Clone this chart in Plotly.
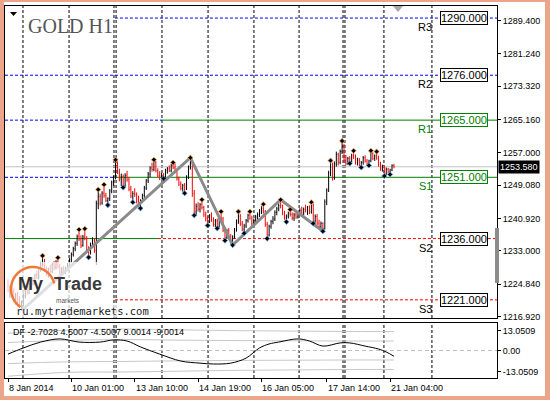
import math
import plotly.graph_objects as go

# ---------------------------------------------------------------------------
# Data (GOLD H1, 8 Jan - 21 Jan 2014)
# ---------------------------------------------------------------------------
opens = [
    1224.5, 1223.2, 1224.0, 1222.9, 1221.2, 1222.1, 1220.7, 1219.6,  # 8 Jan
    1220.2, 1222.0, 1223.5, 1222.8, 1224.7, 1225.8, 1225.0, 1227.0, 1226.5, 1228.6, 1229.8, 1230.4,
    1228.3, 1227.4, 1228.5, 1228.0, 1229.7, 1229.0, 1230.2, 1229.1, 1227.7, 1228.6, 1228.0, 1228.8,  # 9 Jan
    1229.4, 1230.8, 1232.1, 1233.5, 1234.8, 1236.5, 1235.9, 1234.3, 1236.4, 1236.0, 1233.4, 1232.6,
    1234.6, 1235.5, 1233.1, 1244.6, 1246.3, 1244.7, 1247.1, 1246.5, 1245.3, 1245.8, 1247.7, 1249.8,  # 10 Jan
    1251.0, 1254.4, 1252.3, 1250.6, 1251.2, 1249.0, 1251.5, 1250.4, 1248.1, 1246.4, 1247.0, 1246.8,
    1245.1, 1244.2, 1245.2, 1246.6, 1248.4, 1250.2, 1251.8, 1253.3, 1252.9, 1254.8, 1252.6, 1251.4,  # 13 Jan
    1250.9, 1251.7, 1251.0, 1252.7, 1253.2, 1252.6, 1253.9, 1253.3, 1252.4, 1250.6, 1249.3, 1248.3,
    1249.0, 1248.1, 1251.1, 1253.5, 1254.3, 1247.0, 1242.5, 1243.9, 1243.2, 1244.3, 1243.6, 1241.8,  # 14 Jan
    1240.9, 1240.2, 1241.6, 1240.5, 1239.4, 1240.3, 1239.0, 1241.2, 1240.8, 1238.0, 1236.2, 1237.9,
    1236.3, 1235.4, 1236.4, 1238.2, 1240.3, 1241.5, 1239.6, 1238.3, 1239.1, 1240.4, 1241.7, 1241.0,  # 15 Jan
    1239.7, 1240.5, 1241.3, 1241.9, 1242.8, 1243.3, 1242.6, 1239.4, 1236.9, 1239.0, 1240.2, 1240.8,
    1242.4, 1243.3, 1244.1, 1244.0, 1242.2, 1241.1, 1241.5, 1242.2, 1241.9, 1241.0, 1241.8, 1241.3,  # 16 Jan
    1242.1, 1242.9, 1242.3, 1243.1, 1242.8, 1243.6, 1242.5, 1244.2, 1240.3, 1241.4, 1239.8, 1238.9,
    1239.7, 1238.5, 1245.0, 1247.9, 1252.1, 1253.5, 1250.8, 1254.3, 1256.6, 1254.6, 1257.3,  # 17 Jan
    1258.6, 1255.3, 1254.4, 1255.6, 1254.9, 1256.3, 1256.0, 1254.6, 1255.2, 1253.9, 1254.6, 1255.8,
    1255.0, 1254.3, 1255.0, 1256.9, 1255.6, 1256.2, 1255.7, 1254.1, 1253.0,  # 20 Jan
    1253.6, 1251.8, 1253.0, 1252.3, 1252.8, 1253.9,  # 21 Jan
]
highs = [
    1226.0, 1224.6, 1225.2, 1223.8, 1222.7, 1223.0, 1221.9, 1220.8,
    1222.6, 1223.9, 1224.4, 1225.1, 1226.3, 1226.6, 1227.4, 1228.2, 1229.0, 1230.3, 1231.8, 1231.0,
    1229.2, 1228.9, 1229.6, 1230.1, 1230.5, 1230.7, 1231.3, 1229.8, 1229.0, 1229.3, 1229.1, 1230.0,
    1231.2, 1232.6, 1234.0, 1235.3, 1237.0, 1238.2, 1236.8, 1236.9, 1238.4, 1236.6, 1234.1, 1235.0,
    1236.3, 1236.0, 1245.3, 1248.0, 1247.0, 1247.6, 1249.2, 1247.2, 1246.1, 1248.1, 1250.2, 1251.4,
    1255.3, 1254.9, 1253.1, 1251.9, 1251.7, 1252.0, 1252.6, 1251.1, 1248.9, 1247.6, 1248.3, 1247.3,
    1246.5, 1245.6, 1247.0, 1248.9, 1250.6, 1252.3, 1253.7, 1254.6, 1255.3, 1255.0, 1253.2, 1252.5,
    1252.1, 1252.0, 1253.1, 1253.5, 1253.9, 1254.3, 1254.6, 1254.4, 1252.9, 1251.2, 1250.0, 1249.4,
    1249.6, 1251.5, 1253.9, 1255.8, 1254.9, 1247.9, 1244.6, 1244.9, 1244.7, 1245.5, 1244.0, 1242.6,
    1241.5, 1242.0, 1242.4, 1241.2, 1240.8, 1240.9, 1241.6, 1242.6, 1241.3, 1238.9, 1238.4, 1238.6,
    1237.1, 1236.8, 1238.6, 1240.7, 1242.6, 1242.0, 1240.3, 1239.6, 1240.8, 1242.1, 1242.6, 1241.6,
    1240.9, 1241.8, 1242.4, 1243.2, 1243.9, 1244.4, 1243.0, 1240.1, 1239.4, 1240.6, 1241.5, 1242.9,
    1243.8, 1244.6, 1245.5, 1244.3, 1242.8, 1241.9, 1242.6, 1243.1, 1242.4, 1242.3, 1242.9, 1242.6,
    1243.4, 1243.8, 1243.6, 1244.3, 1244.0, 1244.1, 1244.9, 1244.6, 1241.9, 1242.0, 1240.6, 1240.2,
    1240.0, 1245.6, 1248.3, 1252.6, 1255.1, 1254.6, 1254.9, 1257.3, 1257.0, 1257.8, 1259.9,
    1259.2, 1256.4, 1256.0, 1256.2, 1256.8, 1257.5, 1256.6, 1255.8, 1255.7, 1255.0, 1256.2, 1256.4,
    1255.5, 1255.3, 1257.5, 1257.1, 1256.6, 1257.3, 1256.3, 1254.8, 1254.1,
    1253.9, 1253.4, 1253.3, 1253.1, 1254.2, 1254.3,
]
lows = [
    1222.8, 1221.5, 1222.4, 1220.6, 1219.8, 1220.2, 1219.0, 1218.3,
    1219.5, 1221.3, 1222.2, 1222.4, 1223.9, 1224.5, 1224.6, 1226.1, 1226.0, 1227.9, 1229.1, 1227.8,
    1226.9, 1226.5, 1227.6, 1227.5, 1228.2, 1228.4, 1228.7, 1227.2, 1226.9, 1227.5, 1227.3, 1228.1,
    1228.9, 1230.1, 1231.6, 1232.9, 1234.2, 1235.4, 1233.7, 1234.0, 1235.6, 1232.8, 1231.4, 1232.1,
    1233.9, 1232.5, 1229.5, 1243.2, 1244.1, 1244.3, 1246.0, 1244.9, 1244.2, 1245.2, 1247.1, 1248.9,
    1250.5, 1251.8, 1250.0, 1248.8, 1248.5, 1248.7, 1249.9, 1247.6, 1245.9, 1244.9, 1246.2, 1244.6,
    1243.8, 1243.4, 1244.7, 1246.0, 1247.9, 1249.6, 1251.0, 1252.4, 1252.5, 1252.2, 1251.0, 1250.3,
    1250.5, 1250.7, 1250.8, 1251.9, 1252.3, 1252.2, 1253.0, 1252.0, 1250.2, 1248.9, 1247.8, 1247.5,
    1247.1, 1247.9, 1250.6, 1252.9, 1246.2, 1241.7, 1241.8, 1242.6, 1242.4, 1243.1, 1241.3, 1240.2,
    1239.2, 1239.8, 1240.1, 1238.9, 1238.8, 1238.5, 1238.7, 1240.4, 1237.6, 1235.5, 1235.9, 1235.8,
    1234.9, 1234.4, 1236.0, 1237.7, 1239.6, 1239.1, 1237.8, 1237.3, 1238.6, 1239.9, 1240.6, 1239.2,
    1239.0, 1239.8, 1240.6, 1241.3, 1242.0, 1242.1, 1238.9, 1236.0, 1236.5, 1238.4, 1239.5, 1240.3,
    1241.7, 1242.7, 1243.4, 1241.7, 1240.6, 1240.1, 1240.9, 1241.4, 1240.5, 1240.3, 1240.8, 1240.9,
    1241.5, 1241.9, 1241.6, 1242.4, 1241.8, 1242.0, 1242.1, 1239.7, 1239.9, 1239.3, 1238.4, 1237.9,
    1237.8, 1238.2, 1244.2, 1247.4, 1251.3, 1250.2, 1250.4, 1253.6, 1253.9, 1254.2, 1256.7,
    1254.6, 1253.9, 1254.0, 1254.4, 1254.6, 1255.5, 1254.1, 1253.9, 1253.4, 1253.4, 1254.1, 1254.6,
    1253.8, 1253.9, 1254.7, 1255.2, 1255.0, 1255.3, 1253.6, 1252.6, 1252.4,
    1251.3, 1251.6, 1251.9, 1251.7, 1252.5, 1253.2,
]
closes = [
    1223.2, 1224.0, 1222.9, 1221.2, 1222.1, 1220.7, 1219.6, 1220.2,
    1222.0, 1223.5, 1222.8, 1224.7, 1225.8, 1225.0, 1227.0, 1226.5, 1228.6, 1229.8, 1230.4, 1228.3,
    1227.4, 1228.5, 1228.0, 1229.7, 1229.0, 1230.2, 1229.1, 1227.7, 1228.6, 1228.0, 1228.8, 1229.4,
    1230.8, 1232.1, 1233.5, 1234.8, 1236.5, 1235.9, 1234.3, 1236.4, 1236.0, 1233.4, 1232.6, 1234.6,
    1235.5, 1233.1, 1244.6, 1246.3, 1244.7, 1247.1, 1246.5, 1245.3, 1245.8, 1247.7, 1249.8, 1251.0,
    1254.4, 1252.3, 1250.6, 1251.2, 1249.0, 1251.5, 1250.4, 1248.1, 1246.4, 1247.0, 1246.8, 1245.1,
    1244.2, 1245.2, 1246.6, 1248.4, 1250.2, 1251.8, 1253.3, 1252.9, 1254.8, 1252.6, 1251.4, 1250.9,
    1251.7, 1251.0, 1252.7, 1253.2, 1252.6, 1253.9, 1253.3, 1252.4, 1250.6, 1249.3, 1248.3, 1249.0,
    1248.1, 1251.1, 1253.5, 1254.3, 1247.0, 1242.5, 1243.9, 1243.2, 1244.3, 1243.6, 1241.8, 1240.9,
    1240.2, 1241.6, 1240.5, 1239.4, 1240.3, 1239.0, 1241.2, 1240.8, 1238.0, 1236.2, 1237.9, 1236.3,
    1235.4, 1236.4, 1238.2, 1240.3, 1241.5, 1239.6, 1238.3, 1239.1, 1240.4, 1241.7, 1241.0, 1239.7,
    1240.5, 1241.3, 1241.9, 1242.8, 1243.3, 1242.6, 1239.4, 1236.9, 1239.0, 1240.2, 1240.8, 1242.4,
    1243.3, 1244.1, 1244.0, 1242.2, 1241.1, 1241.5, 1242.2, 1241.9, 1241.0, 1241.8, 1241.3, 1242.1,
    1242.9, 1242.3, 1243.1, 1242.8, 1243.6, 1242.5, 1244.2, 1240.3, 1241.4, 1239.8, 1238.9, 1239.7,
    1238.5, 1245.0, 1247.9, 1252.1, 1253.5, 1250.8, 1254.3, 1256.6, 1254.6, 1257.3, 1258.6,
    1255.3, 1254.4, 1255.6, 1254.9, 1256.3, 1256.0, 1254.6, 1255.2, 1253.9, 1254.6, 1255.8, 1255.0,
    1254.3, 1255.0, 1256.9, 1255.6, 1256.2, 1255.7, 1254.1, 1253.0, 1253.6,
    1251.8, 1253.0, 1252.3, 1252.8, 1253.9, 1253.58,
]
last_price = 1253.58

# fractal marks (bar index, price)
up_bars = [18, 26, 37, 40, 47, 50, 56, 76, 86, 95, 101, 111, 120, 126, 133, 142, 147, 158, 168, 174, 180, 189, 192]
up_prices = [1231.8, 1231.3, 1238.2, 1238.4, 1248.0, 1249.2, 1255.3, 1255.3, 1254.6, 1255.8, 1245.5, 1242.6,
             1242.6, 1242.6, 1244.4, 1245.5, 1243.1, 1244.9, 1255.1, 1259.9, 1257.5, 1257.5, 1257.3]
dn_bars = [42, 52, 60, 65, 69, 81, 92, 97, 104, 109, 113, 117, 123, 135, 145, 159, 164, 178, 184, 188, 196, 199]
dn_prices = [1231.4, 1244.2, 1248.5, 1244.9, 1243.4, 1250.7, 1247.1, 1241.7, 1239.2, 1238.5, 1235.5, 1234.4,
             1237.3, 1236.0, 1240.1, 1239.7, 1237.8, 1254.4, 1253.4, 1253.9, 1251.3, 1251.7]

# zigzag pivots
zz_bars = [7, 95, 117, 142, 164]
zz_prices = [1218.3, 1255.8, 1234.4, 1245.5, 1237.8]

# pivot levels
levels = [1290.0, 1276.0, 1265.0, 1251.0, 1236.0, 1221.0]
level_names = ["R3", "R2", "R1", "S1", "S2", "S3"]

# right price scale
price_ticks = [1289.4, 1281.24, 1273.32, 1265.16, 1257.0, 1249.08, 1240.92, 1233.0, 1224.84, 1216.92]

# time scale
tick_bars = [0, 33, 66, 99, 132, 166, 199]
tick_labels = ["8 Jan 2014", "10 Jan 01:00", "13 Jan 10:00", "14 Jan 19:00",
               "16 Jan 05:00", "17 Jan 14:00", "21 Jan 04:00"]
separator_bars = [7.8, 31.8, 55.2, 56.3, 80.2, 104.2, 128.1, 151.6, 174.5, 175.5, 195.8, 220.8]

# DF indicator
df_bars = [0, 8, 17, 27, 37, 48, 55, 62, 69, 79, 90, 100, 107, 116, 124, 131, 136, 141,
           151, 157, 164, 173, 178, 186, 193, 197, 201]
df_values = [-1.7, 1.2, 4.0, 5.5, 4.0, 4.0, 5.0, 4.5, 1.7, -1.7, -5.0, -6.0, -6.4, -6.0, -3.6, 1.2,
             3.1, 4.0, 5.5, 4.5, 2.1, 3.6, 3.6, 2.1, 0.7, -0.7, -2.7028]
band_bars = [0, 30, 60, 90, 120, 150, 180, 201]
band_hi2 = [8.2, 9.6, 10.2, 9.8, 9.4, 9.2, 9.0, 9.0014]
band_hi1 = [3.8, 4.8, 5.2, 4.9, 4.7, 4.6, 4.5, 4.5007]
band_lo1 = [-6.2, -5.4, -5.2, -4.9, -4.7, -4.6, -4.5, -4.5007]
band_lo2 = [-12.2, -10.4, -10.2, -9.8, -9.4, -9.2, -9.0, -9.0014]
df_scale = 13.0509
df_scale_labels = ["13.0509", "0.00", "-13.0509"]

# ---------------------------------------------------------------------------
# Layout helpers (pixel -> paper)
# ---------------------------------------------------------------------------
W, H = 550, 400
ML, MR, MT, MB = 5, 53, 6, 22
X_MIN, X_MAX = -1.5625, 254.69
FONT = "Liberation Sans"
GREEN, BLUE, RED = "#008000", "#0000FF", "#FF0000"


def px_x(px):
    return (px - ML) / (W - ML - MR)


def px_y(py):
    return (H - MB - py) / (H - MT - MB)


def bar_at(px):
    return X_MIN + (px - ML) * (X_MAX - X_MIN) / (W - ML - MR)


fig = go.Figure()

fig.add_trace(go.Ohlc(
    x=list(range(len(closes))), open=opens, high=highs, low=lows, close=closes,
    increasing=dict(line=dict(color="black", width=1)),
    decreasing=dict(line=dict(color=RED, width=1)),
    tickwidth=0.25, hoverinfo="skip", xaxis="x", yaxis="y",
))
fig.add_trace(go.Scatter(
    x=zz_bars, y=zz_prices, mode="lines", line=dict(color="#8a8a8a", width=3),
    hoverinfo="skip", xaxis="x", yaxis="y",
))
fig.add_trace(go.Scatter(
    x=up_bars, y=up_prices, mode="markers", hoverinfo="skip", xaxis="x", yaxis="y",
    marker=dict(symbol="diamond", size=4, color="black", line=dict(color="#f2a65a", width=0.8)),
))
fig.add_trace(go.Scatter(
    x=dn_bars, y=dn_prices, mode="markers", hoverinfo="skip", xaxis="x", yaxis="y",
    marker=dict(symbol="diamond", size=4, color="black", line=dict(color="#5da0e8", width=0.8)),
))

for band in (band_hi2, band_hi1, band_lo1, band_lo2):
    fig.add_trace(go.Scatter(
        x=band_bars, y=band, mode="lines", line=dict(color="#c8c8c8", width=1, shape="spline"),
        hoverinfo="skip", xaxis="x2", yaxis="y2",
    ))
fig.add_trace(go.Scatter(
    x=df_bars, y=df_values, mode="lines", line=dict(color="black", width=1, shape="spline"),
    hoverinfo="skip", xaxis="x2", yaxis="y2",
))

shapes = []
# white card inside the salmon frame
shapes.append(dict(type="rect", xref="paper", yref="paper", layer="below",
                   x0=px_x(4), x1=px_x(545), y0=px_y(396), y1=px_y(2),
                   fillcolor="white", line=dict(width=0)))

# vertical separators in both panels
for b in separator_bars:
    for xr, yr in (("x", "y domain"), ("x2", "y2 domain")):
        shapes.append(dict(type="line", xref=xr, yref=yr, x0=b, x1=b, y0=0, y1=1, layer="below",
                           line=dict(color="black", width=1, dash="3px,2px")))

# current price line
shapes.append(dict(type="line", xref="x", yref="y", x0=X_MIN, x1=X_MAX, y0=last_price, y1=last_price,
                   layer="below", line=dict(color="#c0c0c0", width=1)))

# pivot level segments
b_mon, b_tue, b_s2 = 55.7, 80.2, 78.1
blue = dict(color=BLUE, width=1, dash="3px,2px")
green = dict(color=GREEN, width=1)
red = dict(color=RED, width=1, dash="3px,2px")
segments = [
    (levels[0], b_mon, X_MAX, blue),
    (levels[1], X_MIN, X_MAX, blue),
    (levels[2], X_MIN, b_tue, blue), (levels[2], b_tue, X_MAX, green),
    (levels[3], X_MIN, b_mon, blue), (levels[3], b_mon, X_MAX, green),
    (levels[4], X_MIN, b_s2, green), (levels[4], b_s2, X_MAX, red),
    (levels[5], b_mon, X_MAX, red),
]
for lvl, x0, x1, ln in segments:
    shapes.append(dict(type="line", xref="x", yref="y", x0=x0, x1=x1, y0=lvl, y1=lvl,
                       layer="below", line=ln))

# DF zero line
shapes.append(dict(type="line", xref="x2 domain", yref="y2", x0=0, x1=1, y0=0, y1=0, layer="below",
                   line=dict(color="#c0c0c0", width=1, dash="4px,3px")))

# logo backdrop + ring
shapes.append(dict(type="rect", xref="paper", yref="paper", layer="above",
                   x0=px_x(5.5), x1=px_x(106), y0=px_y(317.5), y1=px_y(262),
                   fillcolor="rgba(255,255,255,0.72)", line=dict(width=0)))
shapes.append(dict(type="rect", xref="paper", yref="paper", layer="above",
                   x0=px_x(106), x1=px_x(150), y0=px_y(317.5), y1=px_y(303),
                   fillcolor="rgba(255,255,255,0.72)", line=dict(width=0)))
cx, cy, rr = 33, 289, 22
pts = []
for k in range(31):
    a = math.radians(15 + k * 220 / 30)
    pts.append(f"{px_x(cx + rr * math.cos(a)):.5f},{px_y(cy - rr * math.sin(a)):.5f}")
shapes.append(dict(type="path", xref="paper", yref="paper", layer="above",
                   path="M " + " L ".join(pts), line=dict(color="#f07a3c", width=2.5)))

# top-left one-click triangle, chart-shift triangle, scroll thumb
shapes.append(dict(type="path", xref="paper", yref="paper", layer="above",
                   path=f"M {px_x(10)},{px_y(12)} L {px_x(17)},{px_y(12)} L {px_x(13.5)},{px_y(16)} Z",
                   fillcolor="black", line=dict(width=0)))
shapes.append(dict(type="path", xref="paper", yref="paper", layer="above",
                   path=f"M {px_x(393)},{px_y(6)} L {px_x(403)},{px_y(6)} L {px_x(398)},{px_y(12)} Z",
                   fillcolor="#a8a8a8", line=dict(width=0)))
shapes.append(dict(type="rect", xref="paper", yref="paper", layer="above",
                   x0=px_x(495), x1=px_x(499), y0=px_y(283), y1=px_y(228),
                   fillcolor="#8c8c8c", line=dict(width=0)))

ann = []
ann.append(dict(text="GOLD H1", xref="paper", yref="paper", x=px_x(26), y=px_y(26),
                xanchor="left", yanchor="middle", showarrow=False,
                font=dict(family="Liberation Serif", size=20, color="#555555")))

label_x = bar_at(440)
name_x = bar_at(434)
for lvl, name in zip(levels, level_names):
    col = GREEN if name in ("R1", "S1") else "black"
    ann.append(dict(text=f"{lvl:.3f}", xref="x", yref="y", x=label_x, y=lvl,
                    xanchor="left", yanchor="middle", showarrow=False,
                    bgcolor="white", bordercolor=col, borderwidth=1, borderpad=0,
                    font=dict(family=FONT, size=11, color=col)))
    ann.append(dict(text=name, xref="x", yref="y", x=name_x, y=lvl, yshift=-1,
                    xanchor="right", yanchor="top", showarrow=False,
                    font=dict(family=FONT, size=11, color=col)))

ann.append(dict(text=f"{last_price:.3f}", xref="paper", yref="y", x=1, xshift=1, y=last_price,
                xanchor="left", yanchor="middle", showarrow=False, bgcolor="black", borderpad=1,
                font=dict(family=FONT, size=9, color="white")))

ann.append(dict(text=f"DF {df_values[-1]} {band_hi1[-1]} {band_lo1[-1]} {band_hi2[-1]} {band_lo2[-1]}",
                xref="paper", yref="paper", x=px_x(11), y=px_y(332), xanchor="left", yanchor="middle",
                showarrow=False, font=dict(family=FONT, size=9, color="black")))

for b, t in zip(tick_bars, tick_labels):
    ann.append(dict(text=t, xref="x2", yref="paper", x=b, xshift=-1, y=px_y(388),
                    xanchor="left", yanchor="middle", showarrow=False,
                    font=dict(family=FONT, size=9, color="black")))

# logo text
ann.append(dict(text="<b>My</b>", xref="paper", yref="paper", x=px_x(16), y=px_y(284),
                xanchor="left", yanchor="middle", showarrow=False,
                font=dict(family=FONT, size=18, color="#333333")))
ann.append(dict(text="<b>Trade</b>", xref="paper", yref="paper", x=px_x(52), y=px_y(284),
                xanchor="left", yanchor="middle", showarrow=False,
                font=dict(family=FONT, size=18, color="#3a3a3a")))
ann.append(dict(text="markets", xref="paper", yref="paper", x=px_x(54), y=px_y(300),
                xanchor="left", yanchor="middle", showarrow=False,
                font=dict(family=FONT, size=6.5, color="#555555")))
ann.append(dict(text="ru.mytrademarkets.com", xref="paper", yref="paper", x=px_x(14), y=px_y(311),
                xanchor="left", yanchor="middle", showarrow=False,
                font=dict(family="DejaVu Sans Mono", size=10.5, color="#222222")))

axis_common = dict(showline=True, mirror=True, linecolor="black", linewidth=1,
                   showgrid=False, zeroline=False, fixedrange=True)
fig.update_layout(
    width=W, height=H, autosize=False,
    margin=dict(l=ML, r=MR, t=MT, b=MB),
    paper_bgcolor="#eba58a", plot_bgcolor="white",
    showlegend=False, hovermode=False,
    font=dict(family=FONT, size=9, color="black"),
    xaxis=dict(domain=[0, 1], range=[X_MIN, X_MAX], anchor="y", showticklabels=False, ticks="",
               rangeslider=dict(visible=False), **axis_common),
    yaxis=dict(domain=[px_y(318), 1], range=[1216.55, 1292.95], anchor="x", side="right",
               tickvals=price_ticks, tickformat=".3f", ticks="outside", ticklen=3, tickcolor="black",
               tickfont=dict(family=FONT, size=9, color="black"), **axis_common),
    xaxis2=dict(domain=[0, 1], range=[X_MIN, X_MAX], anchor="y2", tickvals=tick_bars,
                ticks="outside", ticklen=3, tickcolor="black", showticklabels=False, **axis_common),
    yaxis2=dict(domain=[0, px_y(323)], range=[-df_scale, df_scale], anchor="x2", side="right",
                tickvals=[9.5, 0, -10.2], ticktext=df_scale_labels, ticks="outside", ticklen=3,
                tickcolor="black", tickfont=dict(family=FONT, size=9, color="black"), **axis_common),
    shapes=shapes,
    annotations=ann,
)

# the page body has a default margin; drop it so the figure sits at (0, 0)
fig.write_html("out.html", config={"displayModeBar": False},
               post_script="document.body.style.margin='0';")
